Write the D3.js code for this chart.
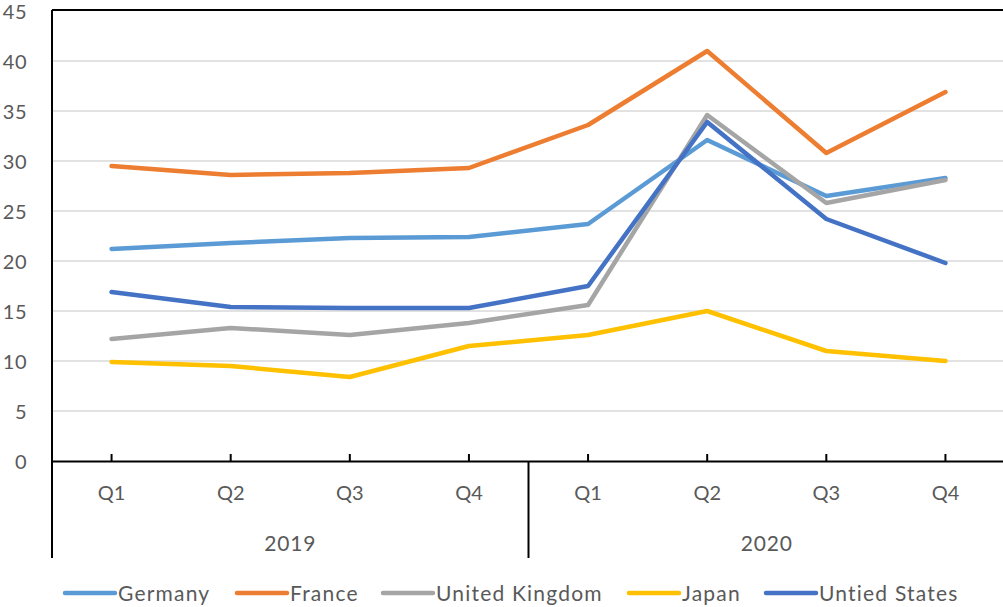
<!DOCTYPE html>
<html>
<head>
<meta charset="utf-8">
<script src="https://cdn.jsdelivr.net/npm/d3@7"></script>
<style>
  html, body { margin: 0; padding: 0; background: #fff; }
  svg { display: block; font-family: Lato, "Open Sans", sans-serif; }
</style>
</head>
<body>
<svg id="chart" width="1003" height="607"></svg>
<script>
// Quarterly series, 2019–2020
const years = ["2019", "2020"];
const quarters = ["Q1", "Q2", "Q3", "Q4"];
const yTicks = [0, 5, 10, 15, 20, 25, 30, 35, 40, 45];

const germany = [21.2, 21.8, 22.3, 22.4, 23.7, 32.1, 26.5, 28.3];
const france  = [29.5, 28.6, 28.8, 29.3, 33.6, 41.0, 30.8, 36.9];
const uk      = [12.2, 13.3, 12.6, 13.8, 15.6, 34.6, 25.8, 28.1];
const japan   = [9.9, 9.5, 8.4, 11.5, 12.6, 15.0, 11.0, 10.0];
const us      = [16.9, 15.4, 15.3, 15.3, 17.5, 33.9, 24.2, 19.8];

const seriesNames = ["Germany", "France", "United Kingdom", "Japan", "Untied States"];
const seriesColors = ["#5B9BD5", "#ED7D31", "#A5A5A5", "#FFC000", "#4472C4"];
const seriesValues = [germany, france, uk, japan, us];

// category keys: year|quarter
const categories = [];
years.forEach(y => quarters.forEach(q => categories.push(y + "|" + q)));

const svg = d3.select("#chart");
const plotLeft = 52, plotRight = 1005, plotTop = 11, plotBottom = 461;
const axisBoxBottom = 558;

const x = d3.scaleBand().domain(categories).range([plotLeft, plotRight]).paddingInner(0).paddingOuter(0);
const y = d3.scaleLinear().domain([0, 45]).range([plotBottom, plotTop]);
const cx = d => x(d) + x.bandwidth() / 2;

// horizontal gridlines
svg.append("g").selectAll("line")
  .data(yTicks.filter(t => t > 0 && t < 45))
  .join("line")
  .attr("x1", plotLeft).attr("x2", plotRight)
  .attr("y1", d => y(d)).attr("y2", d => y(d))
  .attr("stroke", "#D9D9D9").attr("stroke-width", 1.5);

// value axis labels
const yAxis = d3.axisLeft(y).tickValues(yTicks).tickSize(0).tickPadding(0);
const yg = svg.append("g").attr("transform", `translate(27,0)`).call(yAxis);
yg.select(".domain").remove();
yg.selectAll("text")
  .attr("fill", "#595959").style("font-size", "20px").style("font-family", "Lato, sans-serif")
  .style("letter-spacing", "0.5px")
  .attr("dy", "0.36em");

// series lines
const line = d3.line().x((d, i) => cx(categories[i])).y(d => y(d));
svg.append("g").selectAll("path")
  .data(seriesValues)
  .join("path")
  .attr("d", d => line(d))
  .attr("fill", "none")
  .attr("stroke", (d, i) => seriesColors[i])
  .attr("stroke-width", 4.5)
  .attr("stroke-linejoin", "round")
  .attr("stroke-linecap", "round");

// plot frame (top, left, right)
const frame = svg.append("g").attr("stroke", "#000").attr("stroke-width", 2).attr("fill", "none");
frame.append("line").attr("x1", plotLeft).attr("x2", plotRight).attr("y1", plotTop - 1).attr("y2", plotTop - 1);
frame.append("line").attr("x1", plotLeft).attr("x2", plotLeft).attr("y1", plotTop - 1).attr("y2", axisBoxBottom);
frame.append("line").attr("x1", plotRight).attr("x2", plotRight).attr("y1", plotTop - 1).attr("y2", axisBoxBottom);

// category axis: quarter ticks and labels
const xAxis = d3.axisBottom(x).tickSizeInner(-7).tickSizeOuter(0).tickPadding(22)
  .tickFormat(d => d.split("|")[1]);
const xg = svg.append("g").attr("transform", `translate(0,${plotBottom})`).call(xAxis);
xg.select(".domain").attr("stroke", "#000").attr("stroke-width", 2);
xg.selectAll(".tick line").attr("stroke", "#000").attr("stroke-width", 2);
xg.selectAll(".tick text")
  .attr("fill", "#595959").style("font-size", "20px").style("font-family", "Lato, sans-serif")
  .attr("y", 32).attr("dy", "0.36em");

// year group dividers and labels
const yearScale = d3.scaleBand().domain(years).range([plotLeft, plotRight]);
svg.append("g").selectAll("line")
  .data(years.slice(1))
  .join("line")
  .attr("x1", d => yearScale(d)).attr("x2", d => yearScale(d))
  .attr("y1", plotBottom).attr("y2", axisBoxBottom)
  .attr("stroke", "#000").attr("stroke-width", 2);
svg.append("g").selectAll("text")
  .data(years)
  .join("text")
  .attr("x", d => yearScale(d) + yearScale.bandwidth() / 2)
  .attr("y", 543).attr("dy", "0.36em")
  .attr("text-anchor", "middle")
  .attr("fill", "#595959").style("font-size", "21px").style("letter-spacing", "0.8px")
  .text(d => d);

// legend
const legendX = [65, 237, 383, 629, 766];
const legend = svg.append("g").selectAll("g")
  .data(seriesNames)
  .join("g")
  .attr("transform", (d, i) => `translate(${legendX[i]},593)`);
legend.append("line")
  .attr("x1", 0).attr("x2", 50).attr("y1", 0).attr("y2", 0)
  .attr("stroke", (d, i) => seriesColors[i]).attr("stroke-width", 4.5)
  .attr("stroke-linecap", "round");
legend.append("text")
  .attr("x", 53).attr("y", 0).attr("dy", "0.36em")
  .attr("fill", "#595959").style("font-size", "21px").style("letter-spacing", "1.2px")
  .text(d => d);
</script>
</body>
</html>
